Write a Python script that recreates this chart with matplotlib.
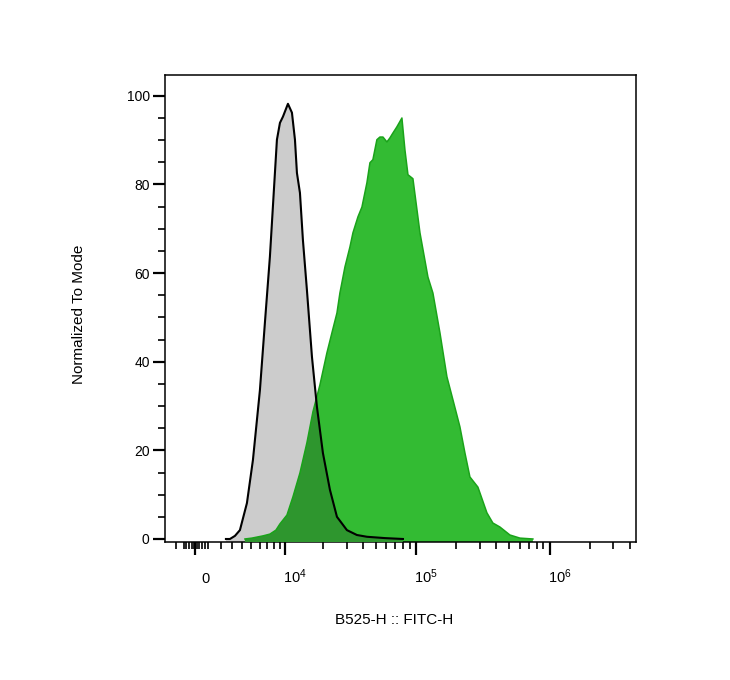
import matplotlib
matplotlib.use('Agg')
import matplotlib.pyplot as plt
import matplotlib.ticker as mticker
from matplotlib.transforms import ScaledTranslation

plt.rcParams['font.family'] = ['Liberation Sans', 'DejaVu Sans']
plt.rcParams['mathtext.default'] = 'regular'

# unstained control (grey) - FITC-H value vs % of mode
ctrl_x = [2455, 2812, 3278, 3766, 4500, 5180, 6045, 6714, 7435, 8052, 8541,
          9054, 9591, 10537, 11353, 12002, 12446, 13150, 13875, 14916, 16328,
          17845, 19838, 22449, 25391, 30223, 35943, 42789, 58408, 79772]
ctrl_y = [0, 0, 0.7, 2.0, 8.1, 17.8, 33.6, 48.8, 63.7, 78.8, 90.1,
          93.9, 95.3, 98.2, 96.2, 90.1, 82.6, 78.1, 67.5, 56.2, 41.1,
          29.8, 19.4, 11.1, 5.0, 2.0, 0.9, 0.5, 0.2, 0]

# stained sample (green)
stain_x = [4284, 5064, 6447, 7435, 8379, 9054, 10344, 11563, 13150, 14916,
           16616, 18826, 21288, 23241, 25391, 26738, 29200, 31853, 33570,
           36617, 39235, 42789, 45090, 47454, 50844, 53565, 56464, 60478,
           63689, 67078, 71851, 78362, 82555, 86970, 94775, 107000, 122800,
           133800, 151100, 170400, 189000, 213200, 232500, 253300, 290800,
           339600, 376400, 425000, 504900, 599900, 750600]
stain_y = [0, 0.2, 0.7, 1.1, 2.0, 3.4, 5.4, 9.5, 14.9, 21.7,
           28.7, 34.8, 42.0, 46.5, 51.0, 55.5, 61.4, 65.9, 69.1,
           72.7, 74.9, 80.4, 84.9, 85.6, 90.1, 90.7, 90.7, 89.6,
           90.5, 91.6, 93.0, 95.0, 87.8, 82.2, 81.3, 69.1, 59.1,
           55.5, 46.5, 36.6, 31.4, 25.3, 19.4, 14.0, 11.7,
           5.9, 3.6, 2.7, 0.9, 0.2, 0]

major_x = [0, 1e4, 1e5, 1e6]
major_x_labels = ['0', '$10^4$', '$10^5$', '$10^6$']
minor_x = [-1500, -900, -700, -500, -300, -100, 100, 300, 500, 700, 1000,
           2000, 3000, 4000, 5000, 6000, 7000, 8000, 9000,
           2e4, 3e4, 4e4, 5e4, 6e4, 7e4, 8e4, 9e4,
           2e5, 3e5, 4e5, 5e5, 6e5, 7e5, 8e5, 9e5,
           2e6, 3e6, 4e6]

fig = plt.figure(figsize=(7.3, 6.8), dpi=100)
ax = fig.add_axes([165/730, 1 - 542/680, 471/730, 467/680])
ax.set_xscale('asinh', linear_width=4460)

base = -0.68
grey = ax.fill_between(ctrl_x, ctrl_y, base, facecolor='#cccccc', linewidth=0, zorder=1)
green = ax.fill_between(stain_x, stain_y, base, facecolor='#33bb33', linewidth=0, zorder=2)
overlap = ax.fill_between(ctrl_x, ctrl_y, base, facecolor='#2e962e', linewidth=0, zorder=3)
overlap.set_clip_path(green.get_paths()[0], green.get_transform())
ax.plot(stain_x, stain_y, color='#1aa31a', lw=1.1, zorder=4)
ax.plot(ctrl_x, ctrl_y, color='black', lw=1.5, zorder=5)

ax.set_xlim(-2450, 4.44e6)
ax.set_ylim(base, 104.7)

ax.xaxis.set_major_locator(mticker.FixedLocator(major_x))
ax.xaxis.set_major_formatter(mticker.FixedFormatter(major_x_labels))
ax.xaxis.set_minor_locator(mticker.FixedLocator(minor_x))
ax.yaxis.set_major_locator(mticker.MultipleLocator(20))
ax.yaxis.set_minor_locator(mticker.MultipleLocator(5))

ax.tick_params(which='major', length=9, width=1.6, color='black', labelsize=10)
ax.tick_params(which='minor', length=5, width=1.2, color='black')
ax.tick_params(axis='x', which='major', pad=20.5, labelsize=10.5)
ax.tick_params(axis='y', which='major', pad=2)

shift = ScaledTranslation(10/100, 0, fig.dpi_scale_trans)
for lab in ax.get_xticklabels():
    lab.set_transform(lab.get_transform() + shift)
    lab.set_va('baseline')

for s in ax.spines.values():
    s.set_linewidth(1.1)
    s.set_color('black')

ax.set_ylabel('Normalized To Mode', fontsize=11)
ax.set_xlabel('B525-H :: FITC-H', fontsize=11)
ax.yaxis.set_label_coords(-0.168, 0.488)
ax.xaxis.set_label_coords(0.486, -0.152)

fig.savefig('out.png', dpi=100)
